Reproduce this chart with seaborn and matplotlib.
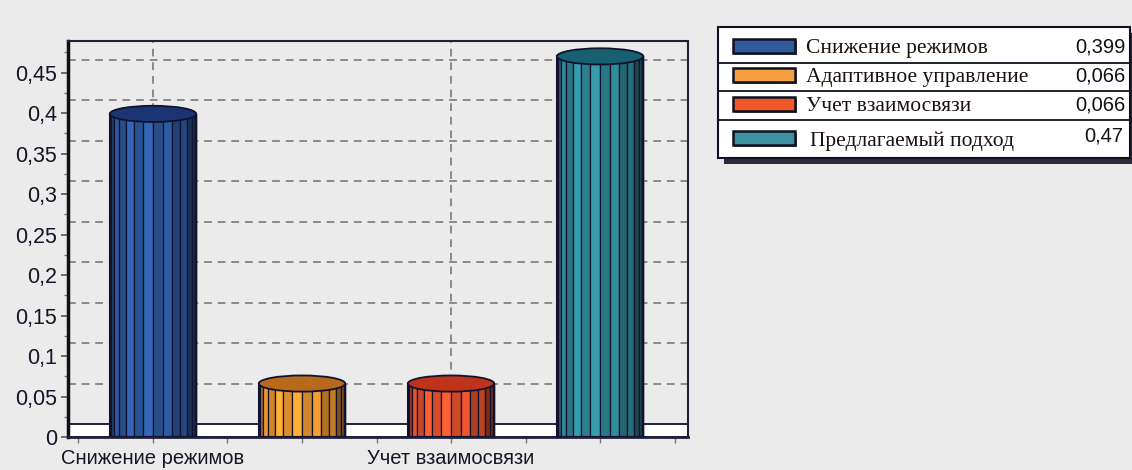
import numpy as np
import matplotlib
matplotlib.use("Agg")
import matplotlib.pyplot as plt
from matplotlib.patches import Rectangle, Ellipse
from matplotlib.ticker import FuncFormatter, FixedLocator
import matplotlib.colors as mcolors
import seaborn as sns

# ---- data ----
categories = ["Снижение режимов", "Адаптивное управление", "Учет взаимосвязи", "Предлагаемый подход"]
values = [0.399, 0.066, 0.066, 0.47]
shown_xlabels = ["Снижение режимов", "", "Учет взаимосвязи", ""]
yticks = [0, 0.05, 0.1, 0.15, 0.2, 0.25, 0.3, 0.35, 0.4, 0.45]

# ---- style ----
bar_colors = ["#2c5aa0", "#f09a30", "#e8552a", "#2f8a98"]
top_colors = ["#1b3474", "#b8691c", "#c0321a", "#176070"]
swatch_colors = ["#2f5b9c", "#f5a040", "#f0582a", "#3b929e"]
bg = "#ebebeb"
edge = "#12122e"

sns.set_theme(style="white")
plt.rcParams["font.family"] = ["Liberation Sans", "DejaVu Sans"]

fig = plt.figure(figsize=(11.32, 4.70), dpi=100, facecolor=bg)
W, H = 1132, 470
ax = fig.add_axes([68 / W, 1 - 437 / H, (688 - 68) / W, (437 - 41) / H])
ax.set_facecolor(bg)

sns.barplot(x=categories, y=values, hue=categories, palette=bar_colors,
            width=0.58, legend=False, ax=ax, edgecolor=edge, linewidth=1.0,
            saturation=1, zorder=3)

ax.set_xlim(-0.57, 3.59)
ax.set_ylim(0, 0.489)

depth = 0.016
# back wall grid (shifted by 3D depth)
for t in yticks[1:]:
    ax.axhline(t + depth, color="#8a8a8a", lw=1.4, ls=(0, (4, 3)), zorder=1)
for xc in [0, 2]:
    ax.axvline(xc, ymin=depth / 0.489, color="#8a8a8a", lw=1.4, ls=(0, (4, 3)), zorder=1)
# floor
ax.add_patch(Rectangle((-0.57, 0), 4.16, depth, facecolor="white",
                       edgecolor="#20203a", lw=1.4, zorder=2))

# cylinder decoration derived from the bar patches
nstrips = 14
for i, p in enumerate(ax.patches[:len(values)]):
    x0, w, h = p.get_x(), p.get_width(), p.get_height()
    xc = x0 + w / 2
    r = w / 2
    base = np.array(mcolors.to_rgb(bar_colors[i]))
    thetas = np.linspace(-np.pi / 2, np.pi / 2, nstrips + 1)
    xs = xc + r * np.sin(thetas)
    for k in range(nstrips):
        th = 0.5 * (thetas[k] + thetas[k + 1])
        shade = 0.5 + 0.65 * np.cos(th + 0.3)
        if k % 2 == 1:
            shade *= 0.8
        col = np.clip(base * shade, 0, 1)
        ax.add_patch(Rectangle((xs[k], 0), xs[k + 1] - xs[k], h,
                               facecolor=col, edgecolor=edge, lw=0.9, zorder=4))
    ax.add_patch(Rectangle((x0, 0), w, h, facecolor="none", edgecolor=edge,
                           lw=1.5, zorder=5))
    ax.add_patch(Ellipse((xc, h), w, 0.02, facecolor=top_colors[i],
                         edgecolor=edge, lw=1.3, zorder=6))

# axes formatting
ax.yaxis.set_major_locator(FixedLocator(yticks))
ax.yaxis.set_minor_locator(FixedLocator([t + 0.025 for t in yticks]))
ax.yaxis.set_major_formatter(FuncFormatter(lambda v, _: f"{v:g}".replace(".", ",")))
ax.xaxis.set_major_locator(FixedLocator([0, 1, 2, 3]))
ax.set_xticklabels(shown_xlabels)
ax.xaxis.set_minor_locator(FixedLocator([-0.5, 0.5, 1.5, 2.5, 3.5]))
ax.tick_params(axis="y", which="major", labelsize=15.5, length=5, width=1.2,
               color="#555555", direction="out", pad=3, labelcolor="#151525", left=True)
ax.tick_params(axis="y", which="minor", length=3, width=1, color="#777777",
               direction="out", left=True)
ax.tick_params(axis="x", which="both", labelsize=14.5, length=4, width=1,
               color="#777777", direction="out", pad=5, labelcolor="#151525",
               bottom=True)
ax.set_xlabel("")
ax.set_ylabel("")
for s in ["top", "right", "bottom"]:
    ax.spines[s].set_visible(True)
    ax.spines[s].set_color("#20203a")
    ax.spines[s].set_linewidth(1.5)
ax.spines["left"].set_color("#101010")
ax.spines["left"].set_linewidth(2.5)
ax.spines["bottom"].set_linewidth(2.0)

# ---- legend table ----
lx0, lx1, ly_top, ly_bot = 718, 1130, 27, 158
lax = fig.add_axes([lx0 / W, 1 - ly_bot / H, (lx1 - lx0) / W, (ly_bot - ly_top) / H])
lax.set_xlim(0, lx1 - lx0)
lax.set_ylim(ly_bot, ly_top)
lax.axis("off")
lax.add_patch(Rectangle((6, ly_top + 6), lx1 - lx0, ly_bot - ly_top, facecolor="#2a2a3a",
                        edgecolor="none", clip_on=False, zorder=1))
lax.add_patch(Rectangle((0, ly_top), lx1 - lx0, ly_bot - ly_top, facecolor="white",
                        edgecolor="#101020", lw=1.5, clip_on=False, zorder=2))
row_bounds = [27, 63, 91, 120, 158]
for yb in row_bounds[1:-1]:
    lax.plot([0, lx1 - lx0], [yb, yb], color="#101020", lw=1.3, zorder=3, clip_on=False)
row_centers = [47, 76, 105, 139]
for i, (cat, v) in enumerate(zip(categories, values)):
    yc = row_centers[i]
    lax.add_patch(Rectangle((17, yc - 6), 62, 14, facecolor="#606070",
                            edgecolor="none", zorder=3, clip_on=False))
    lax.add_patch(Rectangle((15, yc - 8), 62, 14, facecolor=swatch_colors[i],
                            edgecolor="#101020", lw=1.8, zorder=4, clip_on=False))
    lax.text(88 if i < 3 else 92, yc + 2, cat, ha="left", va="center", fontsize=15.5,
             family=["Liberation Serif", "DejaVu Serif"], color="#1a1010", zorder=5)
    lax.text(408 if i < 3 else 405, yc - (3 if i == 3 else 0),
             f"{v:g}".replace(".", ","), ha="right", va="center",
             fontsize=14.5, color="#111111", zorder=5)

fig.savefig("out.png", dpi=100, facecolor=bg)
